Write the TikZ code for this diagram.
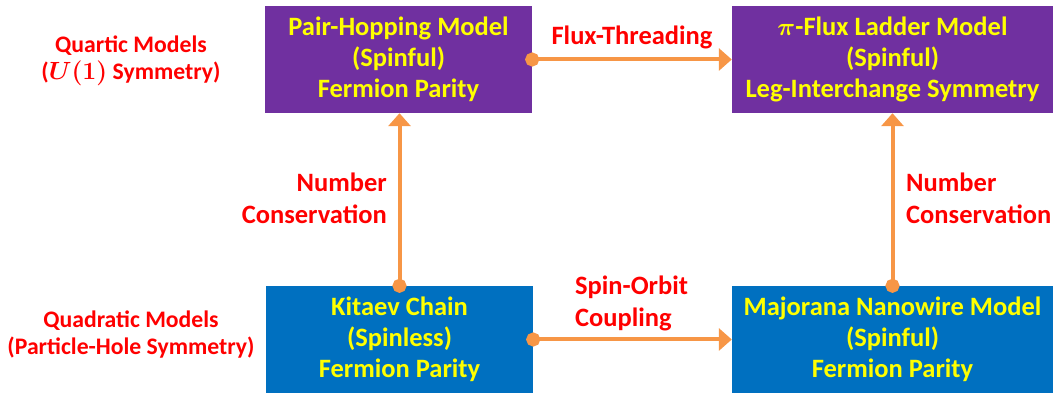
\documentclass[tikz,border=0pt]{standalone}
\usepackage{fontspec}
\setmainfont{Carlito}
\usetikzlibrary{arrows.meta, positioning}

\definecolor{quartic}{HTML}{7030A0}
\definecolor{quadratic}{HTML}{0070C0}
\definecolor{maptext}{HTML}{FF0000}
\definecolor{mapline}{HTML}{F79646}
\definecolor{modeltext}{HTML}{FFFF00}

\begin{document}
\begin{tikzpicture}[
    x=1pt, y=1pt,
    model/.style={rectangle, inner sep=0pt, minimum height=107pt, align=center, text=modeltext, font=\fontsize{26.5}{31}\selectfont\bfseries},
    quarticbox/.style={model, fill=quartic},
    quadraticbox/.style={model, fill=quadratic},
    map/.style={draw=mapline, line width=4pt, {Circle[length=14pt]}-{Triangle[width=22pt,length=13pt]}, shorten <=-7pt},
    maplabel/.style={inner sep=0pt, text=maptext, font=\fontsize{26.5}{32}\selectfont\bfseries},
    classlabel/.style={inner sep=0pt, text=maptext, align=center, font=\fontsize{23.7}{27}\selectfont\bfseries}
]
\useasboundingbox (0,0) rectangle (1053,393);

% Models
\node[quarticbox, minimum width=267pt] (pairhop) at (398.5, 333.5) {Pair-Hopping Model\\(Spinful)\\Fermion Parity};
\node[quarticbox, minimum width=321pt] (piflux) at (892.5, 333.5) {{\boldmath$\pi$}-Flux Ladder Model\\(Spinful)\\Leg-Interchange Symmetry};
\node[quadraticbox, minimum width=267pt] (kitaev) at (399.5, 53.5) {Kitaev Chain\\(Spinless)\\Fermion Parity};
\node[quadraticbox, minimum width=321pt] (nanowire) at (892.5, 53.5) {Majorana Nanowire Model\\(Spinful)\\Fermion Parity};

% Classes (base = last line)
\node[classlabel, anchor=base] (quarticclass) at (131, 313) {Quartic Models\\({\boldmath$U(1)$} Symmetry)};
\node[classlabel, anchor=base] (quadraticclass) at (131, 38) {Quadratic Models\\(Particle-Hole Symmetry)};

% Mappings
\draw[map] (kitaev.north) -- (kitaev.north |- pairhop.south);
\draw[map] (nanowire.north) -- (piflux.south);
\draw[map] (pairhop.east) -- (piflux.west);
\draw[map] (kitaev.east) -- (nanowire.west);

\node[maplabel, anchor=base] (flux) at (632, 348) {Flux-Threading};
\node[maplabel, anchor=base west, align=left] (spinorbit) at (575, 66) {Spin-Orbit\\Coupling};
\node[maplabel, anchor=base east, align=right] (leftnumber) at (387, 169) {Number\\Conservation};
\node[maplabel, anchor=base west, align=left] (rightnumber) at (906, 169) {Number\\Conservation};

\end{tikzpicture}
\end{document}
